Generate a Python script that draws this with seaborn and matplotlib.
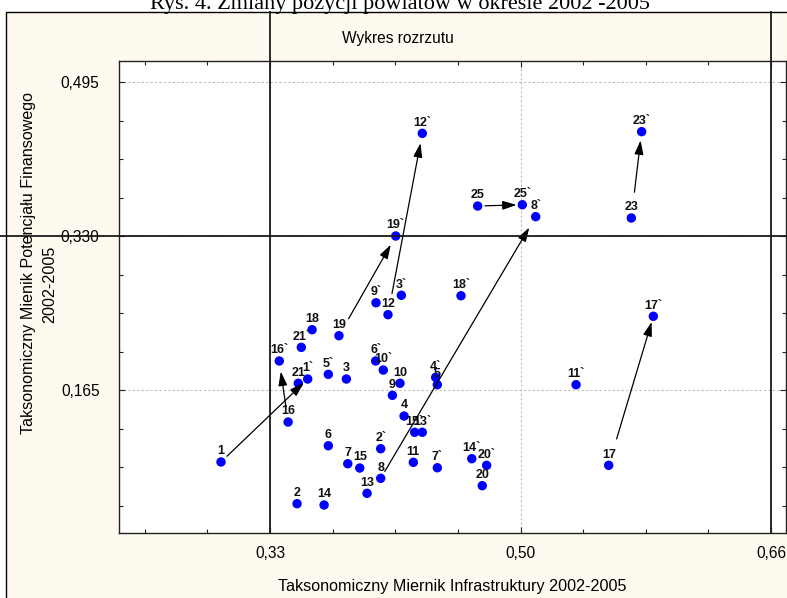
import matplotlib
matplotlib.use("Agg")
import matplotlib.pyplot as plt
import matplotlib.transforms as mtransforms
from matplotlib.patches import Rectangle
from matplotlib.lines import Line2D
from matplotlib.ticker import MultipleLocator, FixedLocator, FixedFormatter
import seaborn as sns
import pandas as pd

# ---------------- data ----------------
point_labels = ["1", "1`", "2", "2`", "3", "3`", "4", "4`", "5", "5`",
                "6", "6`", "7", "7`", "8", "8`", "9", "9`", "10", "10`",
                "11", "11`", "12", "12`", "13", "13`", "14", "14`", "15", "15`",
                "16", "16`", "17", "17`", "18", "18`", "19", "19`", "20", "20`",
                "21", "21`", "23", "23`", "25", "25`"]
infra = [0.2977, 0.3548, 0.3478, 0.4029, 0.3803, 0.4165, 0.4183, 0.4391, 0.4402, 0.3684,
         0.3684, 0.3996, 0.3812, 0.4402, 0.4029, 0.5050, 0.4106, 0.3998, 0.4156, 0.4046,
         0.4244, 0.5316, 0.4077, 0.4303, 0.3939, 0.4303, 0.3656, 0.4629, 0.3891, 0.4253,
         0.3419, 0.3361, 0.5531, 0.5825, 0.3577, 0.4558, 0.3754, 0.4128, 0.4698, 0.4727,
         0.3486, 0.3506, 0.5680, 0.5748, 0.4668, 0.4962]
finance = [0.0879, 0.1768, 0.0432, 0.1021, 0.1768, 0.2665, 0.1371, 0.1786, 0.1707, 0.1818,
           0.1053, 0.1961, 0.0860, 0.0817, 0.0704, 0.3507, 0.1593, 0.2585, 0.1722, 0.1864,
           0.0875, 0.1707, 0.2457, 0.4400, 0.0543, 0.1197, 0.0418, 0.0914, 0.0814, 0.1197,
           0.1307, 0.1961, 0.0843, 0.2440, 0.2296, 0.2660, 0.2232, 0.3300, 0.0625, 0.0843,
           0.1722, 0.2107, 0.3493, 0.4418, 0.3621, 0.3635]
arrow_pairs = [("1", "1`"), ("16", "16`"), ("19", "19`"), ("12", "12`"),
               ("8", "8`"), ("25", "25`"), ("23", "23`"), ("17", "17`")]

x_ticks = [0.33, 0.495, 0.66]
x_tick_labels = ["0,33", "0,50", "0,66"]
y_ticks = [0.165, 0.330, 0.495]
y_tick_labels = ["0,165", "0,330", "0,495"]
ref_x = [0.33, 0.66]
ref_y = [0.33]

title = "Rys. 4. Zmiany pozycji powiatów w okresie 2002 -2005"
chart_title = "Wykres rozrzutu"
x_label = "Taksonomiczny Miernik Infrastruktury 2002-2005"
y_label_1 = "Taksonomiczny Mienik Potencjału Finansowego"
y_label_2 = "2002-2005"

# ---------------- style ----------------
arrow_shrink_start = {"1": 6, "16": 11, "19": 14, "12": 15.5, "8": 5.7, "25": 5.3, "23": 18.7, "17": 19.8}
arrow_shrink_end = {"1`": 4.1, "16`": 7.7, "19`": 7.2, "12`": 7.2, "8`": 9.1, "25`": 4.1, "23`": 6.3, "17`": 4.3}

W, H = 787, 598
plt.rcParams["font.family"] = ["Liberation Sans", "DejaVu Sans"]

df = pd.DataFrame({"label": point_labels, "x": infra, "y": finance})

fig = plt.figure(figsize=(W / 100, H / 100), dpi=100)
fig.patch.set_facecolor("white")

# outer cream frame
frame = Rectangle((6 / W, -0.05), 1.0, (1 - 12 / H) + 0.05, transform=fig.transFigure,
                  facecolor="#FFFAF0", edgecolor="black", lw=1.0, zorder=0)
fig.add_artist(frame)

ax = fig.add_axes([119 / W, 1 - 533 / H, (786 - 119) / W, (533 - 61) / H])
ax.set_facecolor("white")
ax.set_zorder(1)

sns.scatterplot(data=df, x="x", y="y", color="#0000FF", s=46, edgecolor="none",
                linewidth=0, ax=ax, zorder=4, legend=False)

ax.set_xlim(0.2305, 0.6699)
ax.set_ylim(0.0118, 0.5175)

ax.xaxis.set_major_locator(FixedLocator(x_ticks))
ax.xaxis.set_major_formatter(FixedFormatter(x_tick_labels))
ax.yaxis.set_major_locator(FixedLocator(y_ticks))
ax.yaxis.set_major_formatter(FixedFormatter(y_tick_labels))
ax.xaxis.set_minor_locator(MultipleLocator(0.04125))
ax.yaxis.set_minor_locator(MultipleLocator(0.04125))
ax.tick_params(which="both", direction="in", top=True, right=True, width=0.8, color="#222222")
ax.tick_params(which="major", length=4, labelsize=11.2)
ax.tick_params(which="minor", length=3)
ax.tick_params(axis="x", which="major", pad=9)
ax.tick_params(axis="y", which="major", pad=14)
ax.set_xlabel("")
ax.set_ylabel("")
for s in ax.spines.values():
    s.set_linewidth(1.0)
    s.set_color("#222222")
ax.grid(True, which="major", linestyle=(0, (2, 2)), color="#bdbdbd", linewidth=0.8, zorder=0)
ax.set_axisbelow(True)

# reference lines extending over the whole frame
for xv in ref_x:
    tr = mtransforms.blended_transform_factory(ax.transData, fig.transFigure)
    fig.add_artist(Line2D([xv, xv], [1 - 533 / H, 1 - 12 / H], transform=tr,
                          color="#1a1a1a", lw=1.3, zorder=2))
for yv in ref_y:
    tr = mtransforms.blended_transform_factory(fig.transFigure, ax.transData)
    fig.add_artist(Line2D([0, 1], [yv, yv], transform=tr, color="#1a1a1a", lw=1.3, zorder=2))

# point labels
for lab, xv, yv in zip(point_labels, infra, finance):
    ax.annotate(lab, (xv, yv), xytext=(0, 5.5), textcoords="offset points",
                ha="center", va="baseline", fontsize=9, fontweight="bold",
                color="#111111", zorder=5)

# arrows
pos = {l: (xv, yv) for l, xv, yv in zip(point_labels, infra, finance)}
for a, b in arrow_pairs:
    ax.annotate("", xy=pos[b], xytext=pos[a],
                arrowprops=dict(arrowstyle="-|>,head_length=0.85,head_width=0.27",
                                color="black", lw=0.9, mutation_scale=10,
                                shrinkA=arrow_shrink_start[a], shrinkB=arrow_shrink_end[b]),
                zorder=5)

# texts
fig.text(400 / W, 1 - 9 / H, title, ha="center", va="baseline", fontsize=16,
         family=["Liberation Serif", "DejaVu Serif"], zorder=6)
fig.text(398 / W, 1 - 38 / H, chart_title, ha="center", va="center", fontsize=11.2, zorder=6)
fig.text(452 / W, 1 - 586 / H, x_label, ha="center", va="center", fontsize=11.6, zorder=6)
fig.text(29 / W, 1 - 263 / H, y_label_1, ha="center", va="center", rotation=90, fontsize=11.6, zorder=6)
fig.text(50 / W, 1 - 284 / H, y_label_2, ha="center", va="center", rotation=90, fontsize=11.6, zorder=6)

fig.savefig("out.png", dpi=100)
